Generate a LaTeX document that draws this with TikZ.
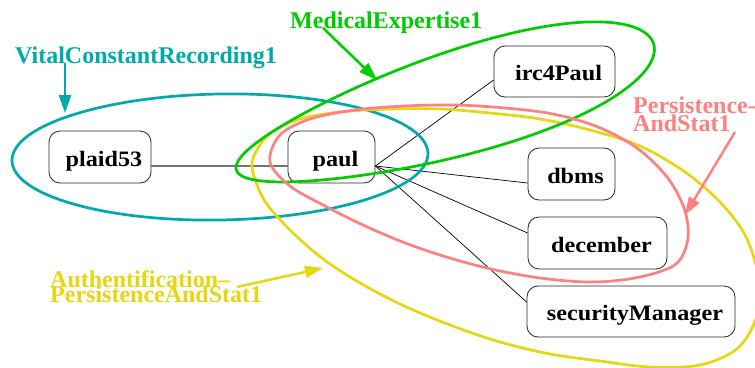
\documentclass[tikz,border=0pt]{standalone}
\usepackage{fontspec}
\setmainfont{Liberation Serif}
\newfontfamily\nodefont[FakeStretch=1.1]{Liberation Serif}
\usetikzlibrary{arrows.meta}
\definecolor{clTeal}{RGB}{0,170,170}
\definecolor{clGreen}{RGB}{0,205,0}
\definecolor{clPink}{RGB}{255,128,128}
\definecolor{clYellow}{RGB}{232,214,16}
\begin{document}
\begin{tikzpicture}[x=1pt,y=-1pt,
  box/.style={draw=black!85, line width=0.8pt, rounded corners=11pt, fill=white,
    inner sep=0pt, text height=22pt, text depth=4pt,
    font=\nodefont\bfseries\fontsize{22}{24}\selectfont},
  link/.style={line width=0.7pt, black},
  grp/.style={line width=2.7pt},
  ptr/.style={line width=2.5pt, -{Triangle[length=18pt,width=12pt]}},
  lab/.style={anchor=base west, inner sep=0pt, font=\bfseries\fontsize{24}{26}\selectfont}
]
% canvas
\fill[white] (0,0) rectangle (755,367);
\useasboundingbox (0,0) rectangle (755,367);

% components
\node[box, minimum width=102pt, minimum height=52pt] (plaid53) at (100,157) {\hspace*{8pt}plaid53};
\node[box, minimum width=87pt, minimum height=52pt] (paul) at (331.5,157) {\hspace*{8pt}paul};
\node[box, minimum width=121pt, minimum height=51pt] (irc) at (554.5,71.5) {\hspace*{8pt}irc4Paul};
\node[box, minimum width=87pt, minimum height=52pt] (dbms) at (571.5,174) {\hspace*{8pt}dbms};
\node[box, minimum width=139pt, minimum height=52pt] (dec) at (597.5,243) {\hspace*{8pt}december};
\node[box, minimum width=208pt, minimum height=51pt] (sec) at (631,311.5) {\hspace*{8pt}securityManager};

% links
\draw[link, black!55, line width=1.2pt] ([yshift=-9pt]plaid53.east) -- ([yshift=-9pt]paul.west);
\coordinate (hub) at ([yshift=-9pt]paul.east);
\draw[link] (hub) -- ([yshift=-8.5pt]irc.west);
\draw[link] (hub) -- ([yshift=-9pt]dbms.west);
\draw[link] (hub) -- ([yshift=10pt]dec.west);
\draw[link] (hub) -- ([yshift=9.5pt]sec.west);

% groups
\draw[grp, clTeal, rotate around={1:(220,157)}] (220,157) ellipse [x radius=208pt, y radius=63pt];
\draw[grp, clYellow] plot[smooth cycle, tension=0.55] coordinates {
  (252,167) (258,148) (272,132) (300,119) (340,112) (390,109) (440,109) (490,113)
  (540,119) (590,130) (640,146) (685,172) (720,202) (745,235) (758,275) (757,315)
  (738,348) (700,365) (650,367) (600,361) (550,354) (500,342) (450,325) (400,304)
  (355,280) (318,255) (285,225) (263,198)};
% egg-shaped outline, wider towards its upper right end
\draw[grp, clGreen, shift={(445,107)}, rotate=16.8]
  plot[domain=0:357, samples=120, smooth cycle]
  ({218*cos(\x)}, {(51.5+11*cos(\x))*sin(\x)});
\draw[grp, clPink] plot[smooth cycle, tension=0.55] coordinates {
  (270,162) (280,135) (310,119) (355,110) (405,106) (455,105) (505,108) (553,114)
  (598,127) (637,148) (667,177) (684,208) (688,238) (676,264) (640,277) (595,282)
  (548,279) (500,271) (453,259) (408,244) (365,226) (325,206) (290,186)};

% group names
\node[lab, text=clTeal] (vcr) at (15,63) {VitalConstantRecording1};
\node[lab, text=clGreen] (med) at (290,28) {MedicalExpertise1};
\node[lab, text=clPink] (pasA) at (633,113) {Persistence-};
\node[lab, text=clPink] (pasB) at (633,131) {AndStat1};
\node[lab, text=clYellow] (authA) at (50,287) {Authentification–};
\node[lab, text=clYellow] (authB) at (50,302) {PersistenceAndStat1};

% pointers
\coordinate (vcrTail) at (65,63);   \coordinate (vcrTip) at (65,113);
\coordinate (medTail) at (323,28);  \coordinate (medTip) at (377,80);
\coordinate (pasTail) at (735,132); \coordinate (pasTip) at (685,215);
\coordinate (authTail) at (237,287); \coordinate (authTip) at (323,268);
\draw[ptr, clTeal] (vcrTail) -- (vcrTip);
\draw[ptr, clGreen] (medTail) -- (medTip);
\draw[ptr, clPink] (pasTail) -- (pasTip);
\draw[ptr, clYellow] (authTail) -- (authTip);
\end{tikzpicture}
\end{document}
